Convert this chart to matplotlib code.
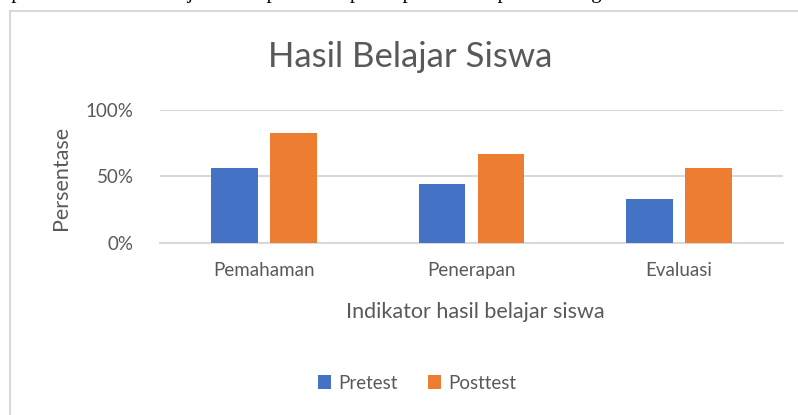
"""Grouped bar chart: Hasil Belajar Siswa (pretest vs posttest)."""

import numpy as np
import matplotlib.pyplot as plt
from matplotlib.patches import Rectangle
from matplotlib.ticker import PercentFormatter

categories = ["Pemahaman", "Penerapan", "Evaluasi"]
pretest = [0.56, 0.44, 0.33]
posttest = [0.83, 0.67, 0.56]
series_names = ["Pretest", "Posttest"]
yticks = [0.0, 0.5, 1.0]

W, H = 798, 415
BLUE = "#4472C4"
ORANGE = "#ED7D31"
TEXT = "#595959"
GRID = "#D9D9D9"

plt.rcParams["font.family"] = ["Lato", "DejaVu Sans"]

fig = plt.figure(figsize=(W / 100, H / 100), dpi=100)

# outer chart border (runs off the right and bottom edge)
fig.patches.append(Rectangle((9.5 / W, -0.05), 1.1, 1 - 11 / H + 0.05,
                             transform=fig.transFigure, fill=False,
                             edgecolor=GRID, linewidth=1.5))

# line of document text above the chart, mostly cut off by the top edge
fig.text(2 / W, 1 + 2 / H, "ap indikator hasil belajar siswa pada setiap komponen-komponen sebagai",
         family=["Liberation Serif"], fontsize=15, va="baseline", ha="left", color="black")

ax = fig.add_axes([160 / W, 1 - 242.7 / H, 623 / W, 132.7 / H])

x = np.arange(len(categories))
bw = 0.226
off = 0.142
ax.bar(x - off, pretest, bw, color=BLUE, label=series_names[0], zorder=3)
ax.bar(x + off, posttest, bw, color=ORANGE, label=series_names[1], zorder=3)

ax.set_xlim(-0.5, len(categories) - 0.5)
ax.set_ylim(0, 1)
ax.set_yticks(yticks)
ax.yaxis.set_major_formatter(PercentFormatter(1.0, decimals=0))
ax.set_xticks(x)
ax.set_xticklabels(categories)
ax.tick_params(length=0, labelsize=13.5, colors=TEXT)
ax.tick_params(axis="x", pad=14)
ax.tick_params(axis="y", pad=19)
for lab in ax.get_xticklabels() + ax.get_yticklabels():
    lab.set_color(TEXT)

ax.grid(axis="y", color=GRID, linewidth=1.5, zorder=0)
for s in ["top", "left", "right"]:
    ax.spines[s].set_visible(False)
ax.spines["bottom"].set_color(GRID)
ax.spines["bottom"].set_linewidth(1.5)
ax.set_facecolor("none")

fig.text(410 / W, 1 - 57 / H, "Hasil Belajar Siswa", ha="center", va="center",
         fontsize=25, color=TEXT)
fig.text(475 / W, 1 - 312 / H, "Indikator hasil belajar siswa", ha="center", va="center",
         fontsize=15.5, color=TEXT)
fig.text(61 / W, 1 - 178 / H, "Persentase", ha="center", va="center", rotation=90,
         fontsize=15.5, color=TEXT)

fig.legend(loc="center", bbox_to_anchor=(417 / W, 1 - 383 / H), ncol=2, frameon=False,
           fontsize=13.5, labelcolor=TEXT, handlelength=0.7, handleheight=0.7,
           handletextpad=0.4, columnspacing=1.6)

fig.savefig("out.png", dpi=100)
plt.close(fig)
